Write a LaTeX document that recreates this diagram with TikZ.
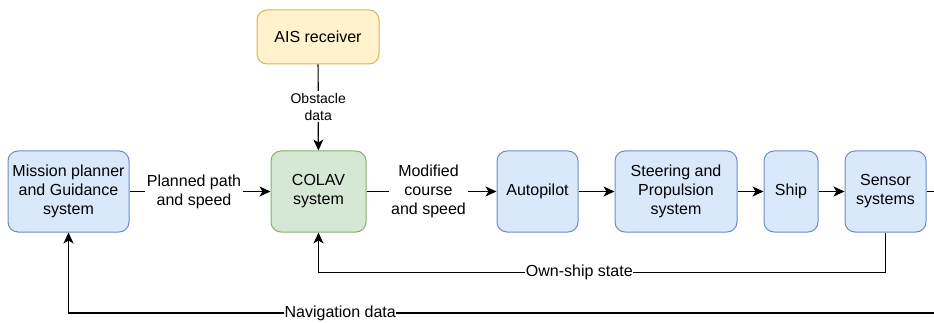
\documentclass[tikz,border=0pt]{standalone}
\usepackage{fontspec}
\setmainfont{Liberation Sans}
\usetikzlibrary{arrows.meta}
\definecolor{blueFill}{HTML}{DAE8FC}
\definecolor{blueLine}{HTML}{6C8EBF}
\definecolor{greenFill}{HTML}{D5E8D4}
\definecolor{greenLine}{HTML}{82B366}
\definecolor{yellowFill}{HTML}{FFF2CC}
\definecolor{yellowLine}{HTML}{D6B656}

\begin{document}
\begin{tikzpicture}[x=1pt, y=-1pt,
   block/.style={draw, rounded corners=10pt, line width=1pt, align=center,
     inner sep=0pt, minimum height=81pt, font=\fontsize{16}{19}\selectfont},
   bluebox/.style={block, fill=blueFill, draw=blueLine},
   greenbox/.style={block, fill=greenFill, draw=greenLine},
   yellowbox/.style={block, fill=yellowFill, draw=yellowLine, minimum height=54pt},
   flow/.style={line width=1.2pt, -{Stealth[length=11pt, width=10pt, inset=3pt]}},
   wire/.style={line width=1.2pt},
   lbl/.style={fill=white, inner sep=2pt, align=center, font=\fontsize{16}{19}\selectfont},
   smalllbl/.style={lbl, font=\fontsize{14}{17}\selectfont}]
   \useasboundingbox (0,0) rectangle (934,323);

   \draw[]
    (318,37) node[yellowbox, minimum width=122pt](ais) {AIS receiver}
    (68.5,191.5) node[bluebox, minimum width=121pt](mission) {Mission planner\\and Guidance\\system}
    (318.5,191.5) node[greenbox, minimum width=95pt](colav) {COLAV\\system}
    (537.5,191.5) node[bluebox, minimum width=81pt](autopilot) {Autopilot}
    (676,191.5) node[bluebox, minimum width=122pt](steering) {Steering and\\Propulsion\\system}
    (791,191.5) node[bluebox, minimum width=54pt](ship) {Ship}
    (885.5,191.5) node[bluebox, minimum width=81pt](sensor) {Sensor\\systems};

   \coordinate (sensorout) at (934,191.5);
   \coordinate (navin) at (934,313);

   \draw[flow] (ais) -- node[smalllbl, yshift=1pt] {Obstacle\\data} (colav);
   \draw[flow] (mission) -- node[lbl, xshift=-6pt] {Planned path\\and speed} (colav);
   \draw[flow] (colav) -- node[lbl, xshift=-3pt] {Modified\\course\\and speed} (autopilot);
   \draw[flow] (autopilot) -- (steering);
   \draw[flow] (steering) -- (ship);
   \draw[flow] (ship) -- (sensor);
   \draw[wire] (sensor) -- (sensorout);

   %feedback
   \draw[flow] (sensor.south) -- ++(0,40) -| node[lbl, pos=0.27, inner sep=0.5pt] {Own-ship state} (colav.south);
   \draw[flow] (navin) -| node[lbl, pos=0.343, inner sep=0.5pt] {Navigation data} (mission.south);
\end{tikzpicture}
\end{document}
